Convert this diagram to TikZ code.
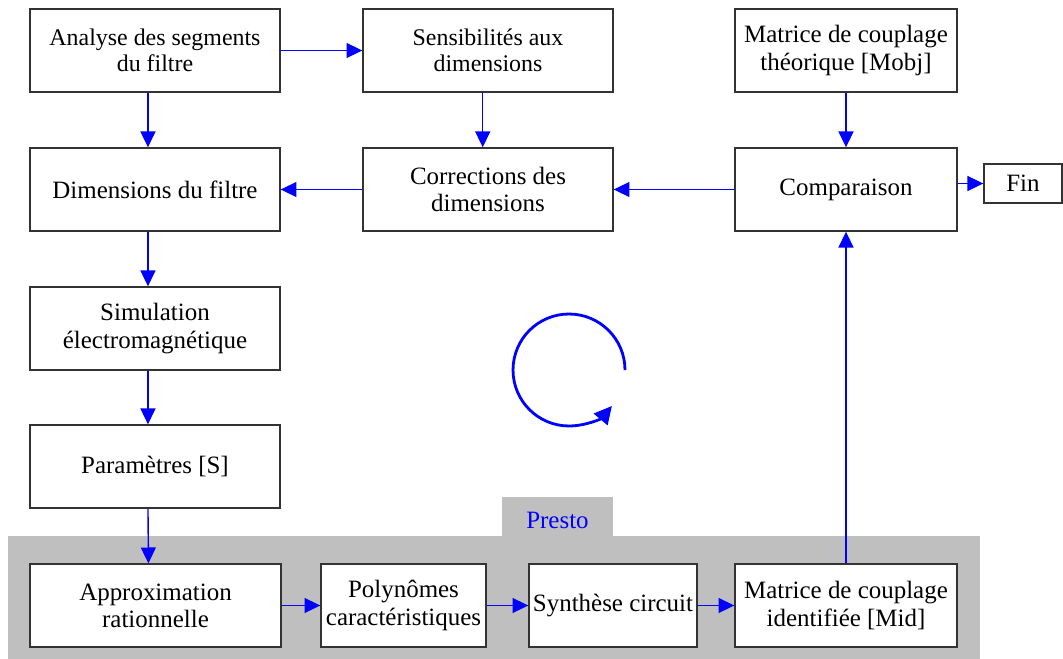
\documentclass[tikz,border=0pt]{standalone}
\usepackage{fontspec}
\setmainfont{Liberation Serif}
\usetikzlibrary{arrows.meta}

\begin{document}
\begin{tikzpicture}[x=0.02cm,y=-0.02cm]
\tikzstyle{bloc}=[rectangle,draw=black!80,line width=0.8pt,fill=white,inner sep=0pt,align=center,minimum width=5cm,minimum height=1.66cm,font=\fontsize{14.2pt}{15.5pt}\selectfont]
\tikzstyle{etroit}=[bloc,minimum width=4.44cm]
\tikzstyle{fleche}=[draw=blue,line width=0.8pt,-{Triangle[length=9pt,width=8.5pt]}]
\useasboundingbox (0,0) rectangle (1063,659);
% zone Presto
\fill[black!25] (8,536) rectangle (980,659);
\fill[black!25] (502,497) rectangle (613,536);
\node [text=blue,font=\fontsize{14.2pt}{15.5pt}\selectfont] (presto) at (557.5,520) {Presto};
% blocs
\node [bloc,font=\fontsize{13.6pt}{15pt}\selectfont] (ana) at (155,50.5) {Analyse des segments\\du filtre};
\node [bloc,font=\fontsize{13.6pt}{15pt}\selectfont] (sens) at (488,50.5) {Sensibilit\'es aux\\dimensions};
\node [etroit] (mobj) at (846,50.5) {Matrice de couplage\\th\'eorique [Mobj]};
\node [bloc] (dim) at (155,189.5) {Dimensions du filtre};
\node [bloc] (corr) at (488,189.5) {Corrections des\\dimensions};
\node [etroit] (comp) at (846,189.5) {Comparaison};
\node [bloc,minimum width=1.56cm,minimum height=0.78cm] (fin) at (1023,183.5) {Fin};
\node [bloc] (sim) at (155,328.5) {Simulation\\\'electromagn\'etique};
\node [bloc] (par) at (155,466.5) {Param\`etres [S]};
\node [bloc,minimum width=5.02cm] (app) at (155.5,605.5) {Approximation\\rationnelle};
\node [bloc,minimum width=3.3cm] (poly) at (403.5,605.5) {Polyn\^omes\\caract\'eristiques};
\node [bloc,minimum width=3.36cm] (syn) at (613,605.5) {Synth\`ese circuit};
\node [etroit] (mid) at (846,605.5) {Matrice de couplage\\identifi\'ee [Mid]};
% fleches
\draw [fleche] (ana) -- (sens);
\draw [fleche] ([xshift=-4pt]ana.south) -- ([xshift=-4pt]dim.north);
\draw [fleche] ([xshift=-3pt]sens.south) -- ([xshift=-3pt]corr.north);
\draw [fleche] (mobj) -- (comp);
\draw [fleche] (comp) -- (corr);
\draw [fleche] (corr) -- (dim);
\draw [fleche] (comp.east |- fin.west) -- (fin.west);
\draw [fleche] ([xshift=-4pt]dim.south) -- ([xshift=-4pt]sim.north);
\draw [fleche] ([xshift=-4pt]sim.south) -- ([xshift=-4pt]par.north);
\draw [fleche] ([xshift=-4pt]par.south) -- ([xshift=-4pt]app.north);
\draw [fleche] (app) -- (poly);
\draw [fleche] (poly) -- (syn);
\draw [fleche] (syn) -- (mid);
\draw [fleche] (mid) -- (comp);
% cycle
\draw [blue,line width=1.6pt,-{Triangle[length=10pt,width=10pt]}] (625,370) arc[start angle=0,end angle=320,radius=1.12cm];
\end{tikzpicture}
\end{document}
